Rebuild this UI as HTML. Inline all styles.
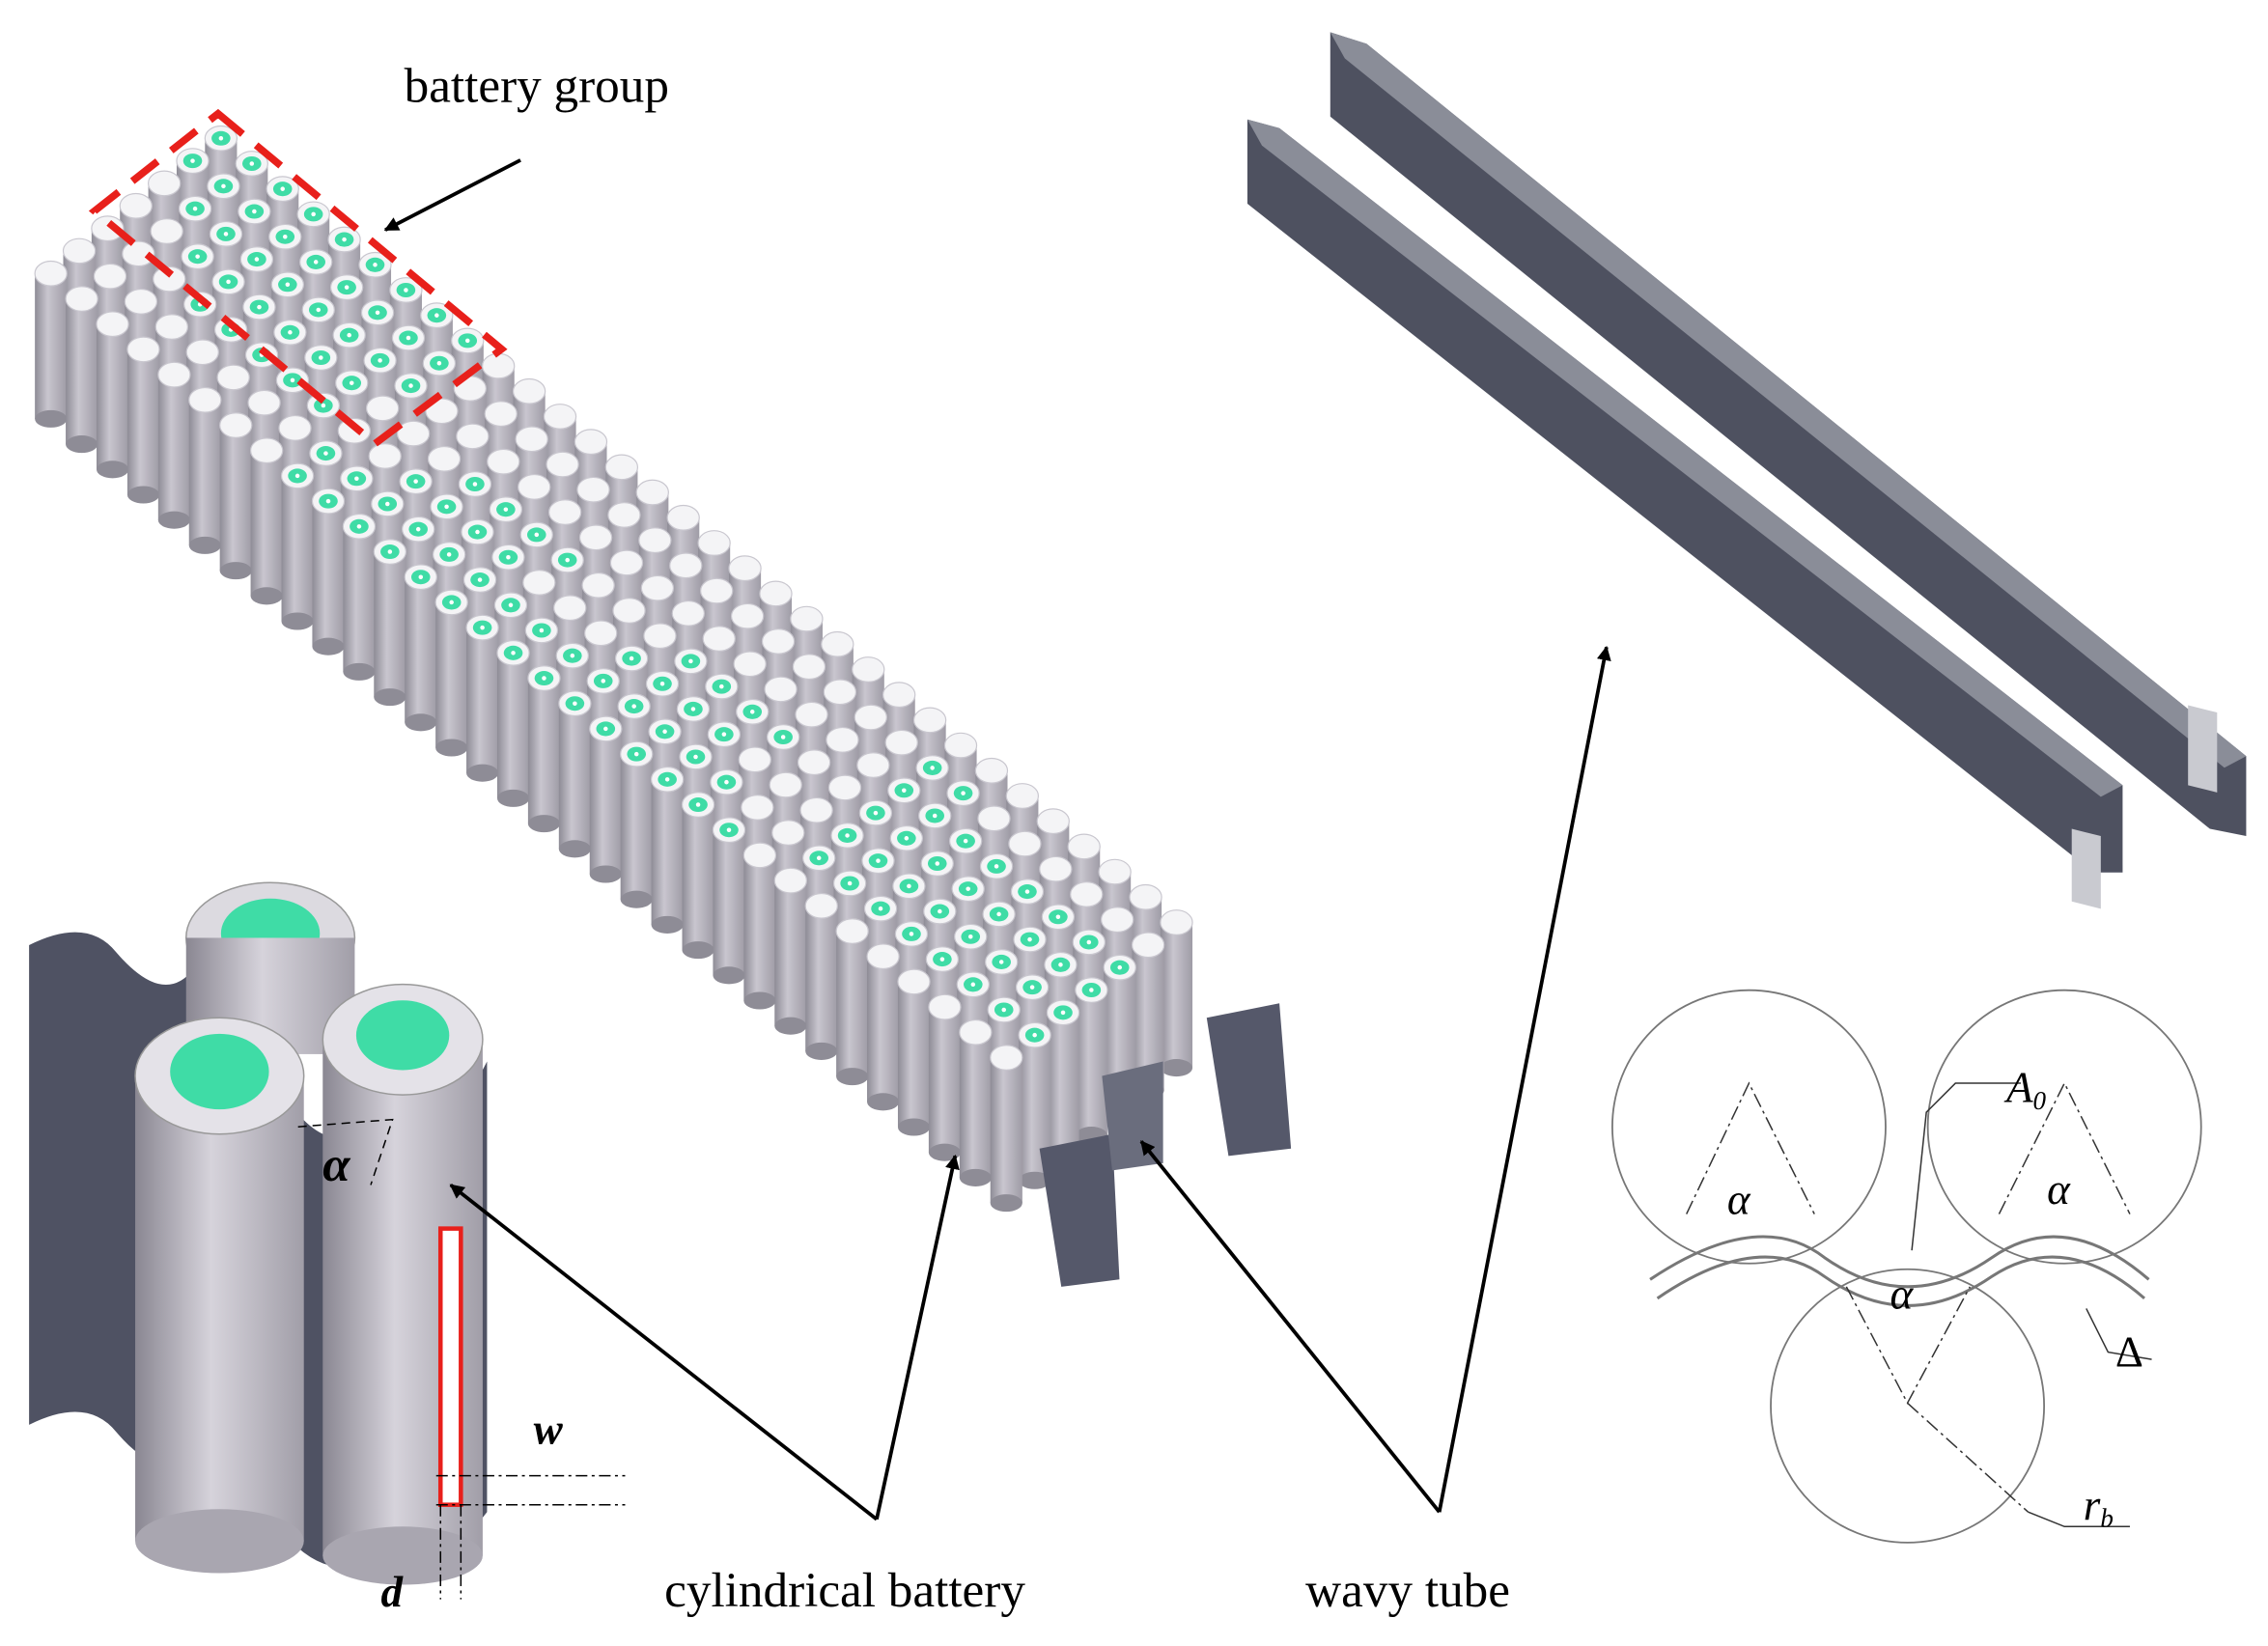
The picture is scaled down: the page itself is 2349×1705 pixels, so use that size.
<!DOCTYPE html>
<html><head><meta charset="utf-8"><style>
html,body{margin:0;padding:0;background:#fff;}
svg{display:block;}
text{font-family:"Liberation Serif",serif;}
</style></head><body>
<svg id="s" width="2349" height="1705" viewBox="0 0 1560 1132" xmlns="http://www.w3.org/2000/svg">
<defs>
<linearGradient id="cyl" x1="0" x2="1" y1="0" y2="0">
<stop offset="0" stop-color="#8e8c96"/><stop offset="0.4" stop-color="#c9c6cf"/><stop offset="1" stop-color="#9f9ca6"/></linearGradient>
<linearGradient id="big" x1="0" x2="1" y1="0" y2="0">
<stop offset="0" stop-color="#8a8792"/><stop offset="0.45" stop-color="#d6d3db"/><stop offset="1" stop-color="#a19ea8"/></linearGradient>
<marker id="ar" markerWidth="10" markerHeight="10" refX="9" refY="5" orient="auto" markerUnits="userSpaceOnUse">
<path d="M0,0 L10,5 L0,10 z" fill="#000"/></marker>
</defs>
<g id="pack"></g>
<!-- wavy tubes top right -->
<polygon points="915,22 940,30 1545,520 1545,575 1520,570 915,80" fill="#4e5160"/>
<polygon points="915,22 940,30 1545,520 1530,528 925,40" fill="#8a8d98"/>
<polygon points="858,82 880,88 1460,540 1460,600 1440,600 858,140" fill="#4e5160"/>
<polygon points="858,82 880,88 1460,540 1445,548 868,100" fill="#8a8d98"/>
<polygon points="1505,485 1525,490 1525,545 1505,540" fill="#c9cad0"/>
<polygon points="1425,570 1445,575 1445,625 1425,620" fill="#c9cad0"/>
<!-- battery group dashed box -->
<polygon points="150,78 345,240 258,305 65,145" fill="none" stroke="#e8201b" stroke-width="5" stroke-dasharray="22,12"/>
<text x="278" y="70" font-size="34">battery group</text>
<line x1="358" y1="110" x2="265" y2="158" stroke="#000" stroke-width="2.5" marker-end="url(#ar)"/>
<!-- pack end pieces -->
<polygon points="830,700 880,690 888,790 845,795" fill="#55586a"/>
<polygon points="715,790 765,780 770,880 730,885" fill="#55586a"/>
<polygon points="758,740 800,730 800,800 765,805" fill="#6a6d7d"/>
<!-- inset cylinders -->
<path d="M20,650 Q60,630 80,655 Q110,690 130,670 L130,1000 Q110,1020 80,985 Q60,960 20,980 Z" fill="#4f5263"/>
<path d="M200,760 Q230,800 260,770 L300,770 Q320,760 335,730 L335,1040 Q320,1060 300,1070 L260,1070 Q230,1090 200,1060 Z" fill="#4f5263"/>
<ellipse cx="186" cy="645" rx="58" ry="38" fill="#dcdae0" stroke="#999" />
<ellipse cx="186" cy="642" rx="34" ry="24" fill="#3fdca6"/>
<rect x="128" y="645" width="116" height="80" fill="url(#big)"/>
<rect x="222" y="715" width="110" height="355" fill="url(#big)"/>
<ellipse cx="277" cy="1070" rx="55" ry="20" fill="#a9a6b0"/>
<ellipse cx="277" cy="715" rx="55" ry="38" fill="#e4e2e8" stroke="#999"/>
<ellipse cx="277" cy="712" rx="32" ry="24" fill="#3fdca6"/>
<rect x="93" y="740" width="116" height="320" fill="url(#big)"/>
<ellipse cx="151" cy="1060" rx="58" ry="22" fill="#a9a6b0"/>
<ellipse cx="151" cy="740" rx="58" ry="40" fill="#e4e2e8" stroke="#999"/>
<ellipse cx="151" cy="737" rx="34" ry="26" fill="#3fdca6"/>
<rect x="303" y="845" width="14" height="190" fill="#fff" stroke="#e8201b" stroke-width="3"/>
<line x1="300" y1="1015" x2="430" y2="1015" stroke="#000" stroke-dasharray="8,3,2,3"/>
<line x1="300" y1="1035" x2="430" y2="1035" stroke="#000" stroke-dasharray="8,3,2,3"/>
<line x1="303" y1="1035" x2="303" y2="1100" stroke="#000" stroke-dasharray="8,3,2,3"/>
<line x1="317" y1="1035" x2="317" y2="1100" stroke="#000" stroke-dasharray="8,3,2,3"/>
<text x="367" y="993" font-size="30" font-weight="bold" font-style="italic">w</text>
<text x="262" y="1105" font-size="30" font-weight="bold" font-style="italic">d</text>
<text x="222" y="812" font-size="34" font-weight="bold" font-style="italic">α</text>
<path d="M205,775 L270,770 L255,815" fill="none" stroke="#000" stroke-dasharray="6,4"/>
<!-- labels & arrows -->
<text x="457" y="1105" font-size="34">cylindrical battery</text>
<text x="898" y="1105" font-size="34">wavy tube</text>
<line x1="603" y1="1045" x2="310" y2="815" stroke="#000" stroke-width="2.5" marker-end="url(#ar)"/>
<line x1="603" y1="1045" x2="657" y2="795" stroke="#000" stroke-width="2.5" marker-end="url(#ar)"/>
<line x1="990" y1="1040" x2="785" y2="785" stroke="#000" stroke-width="2.5" marker-end="url(#ar)"/>
<line x1="990" y1="1040" x2="1105" y2="445" stroke="#000" stroke-width="2.5" marker-end="url(#ar)"/>
<!-- circle diagram -->
<g fill="none" stroke="#777" stroke-width="1.2">
<circle cx="1203" cy="775" r="94"/><circle cx="1420" cy="775" r="94"/><circle cx="1312" cy="967" r="94"/>
<path d="M1135,880 Q1210,830 1255,865 Q1312,905 1370,865 Q1420,830 1478,880" stroke-width="2"/>
<path d="M1140,893 Q1210,845 1255,878 Q1312,918 1370,878 Q1420,845 1475,893" stroke-width="2"/>
</g>
<g fill="none" stroke="#333" stroke-width="1" stroke-dasharray="10,3,2,3">
<path d="M1160,835 L1203,745 L1248,835"/><path d="M1375,835 L1420,745 L1465,835"/>
<path d="M1270,885 L1312,965 L1355,885"/>
<line x1="1312" y1="965" x2="1395" y2="1040"/>
</g>
<polyline points="1315,860 1325,765 1345,745 1390,745" fill="none" stroke="#333"/>
<polyline points="1395,1040 1420,1050 1465,1050" fill="none" stroke="#333"/>
<polyline points="1435,900 1450,930 1480,935" fill="none" stroke="#333"/>
<text x="1380" y="758" font-size="30" font-style="italic">A<tspan font-size="18" dy="5">0</tspan></text>
<text x="1188" y="835" font-size="30" font-style="italic">α</text>
<text x="1408" y="828" font-size="30" font-style="italic">α</text>
<text x="1300" y="900" font-size="30" font-style="italic">α</text>
<text x="1455" y="940" font-size="30">Δ</text>
<text x="1433" y="1045" font-size="30" font-style="italic">r<tspan font-size="18" dy="5">b</tspan></text>
</svg>
<script>
(function(){
var g=document.getElementById('pack'),ns='http://www.w3.org/2000/svg';
var cells=[];
var R=32,C=7;
for(var i=0;i<R;i++)for(var j=0;j<C;j++){
 var x=152+i*21.2-j*19.5, y=95+i*17.4+j*15.5;
 cells.push({x:x,y:y,i:i,j:j});
}
cells.sort(function(a,b){return a.y-b.y;});
function el(t,a){var e=document.createElementNS(ns,t);for(var k in a)e.setAttribute(k,a[k]);g.appendChild(e);return e;}
cells.forEach(function(c){
 var h=100;
 el('rect',{x:c.x-11,y:c.y,width:22,height:h,fill:'url(#cyl)'});
 el('ellipse',{cx:c.x,cy:c.y+h,rx:11,ry:6,fill:'#8e8c96'});
 var green=false,i=c.i,j=c.j;
 if(i<10&&j>=0&&j<=4&&i>=j-1) green=(j<5&&i<9);
 if(i>=8&&i<=22&&j>=3) green=((i+j)%7<4)||j>=5;
 if(i>=12&&i<=20&&j<=2) green=false;
 if(i>=22&&j>=1&&j<=5) green=(i>=24);
 if(i>=26&&j<=1) green=false;
 el('ellipse',{cx:c.x,cy:c.y,rx:11,ry:8.5,fill:'#f4f4f6',stroke:'#c9c7cf','stroke-width':0.8});
 if(green){el('ellipse',{cx:c.x,cy:c.y,rx:6.5,ry:5,fill:'#3fdca6'});el('circle',{cx:c.x,cy:c.y,r:1.5,fill:'#fff'});}
});
})();
</script>
</body></html>
